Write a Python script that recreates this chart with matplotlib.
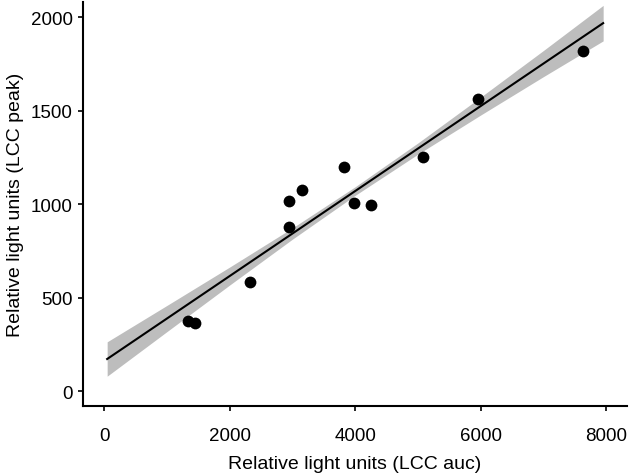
import matplotlib
matplotlib.use("Agg")
import matplotlib.pyplot as plt
import numpy as np

# values
lcc_auc = [1339, 1445, 2322, 2948, 2948, 3146, 3820, 3974, 4245, 5079, 5951, 7633]
lcc_peak = [376, 364, 582, 1019, 880, 1078, 1198, 1005, 997, 1253, 1563, 1818]
x_ticks = [0, 2000, 4000, 6000, 8000]
y_ticks = [0, 500, 1000, 1500, 2000]

# confidence band half-width along the fitted line
band_x = [45, 1000, 2000, 3000, 4000, 5000, 6000, 7000, 7950]
band_half = [92, 70, 48, 30, 23, 30, 48, 70, 95]

plt.rcParams['font.family'] = ['Liberation Sans', 'DejaVu Sans']

x = np.array(lcc_auc, dtype=float)
y = np.array(lcc_peak, dtype=float)

# linear fit like geom_smooth(method="lm")
b, a = np.polyfit(x, y, 1)
bx = np.array(band_x, dtype=float)
by = a + b * bx
bh = np.array(band_half, dtype=float)

fig = plt.figure(figsize=(6.3, 4.77), dpi=100)
ax = fig.add_axes([83 / 630, 1 - 407 / 477, (627 - 83) / 630, (407 - 3) / 477])

ax.fill_between(bx, by - bh, by + bh, color='#bdbdbd', linewidth=0, zorder=1)
ax.plot(bx, by, color='black', linewidth=1.5, zorder=2)
ax.scatter(x, y, s=72, color='black', zorder=3, linewidths=0)

ax.set_xlim(-340, 8330)
ax.set_ylim(-80, 2082)
ax.set_xticks(x_ticks)
ax.set_yticks(y_ticks)

for side in ['top', 'right']:
    ax.spines[side].set_visible(False)
for side in ['left', 'bottom']:
    ax.spines[side].set_linewidth(1.5)
ax.tick_params(axis='both', direction='out', length=3.8, width=1.2, labelsize=13.5, colors='black')
ax.tick_params(axis='y', pad=3.5)
ax.tick_params(axis='x', pad=11)

ax.set_xlabel("Relative light units (LCC auc)", fontsize=14, labelpad=8)
ax.set_ylabel("Relative light units (LCC peak)", fontsize=14, labelpad=5)

fig.savefig("out.png", dpi=100)
